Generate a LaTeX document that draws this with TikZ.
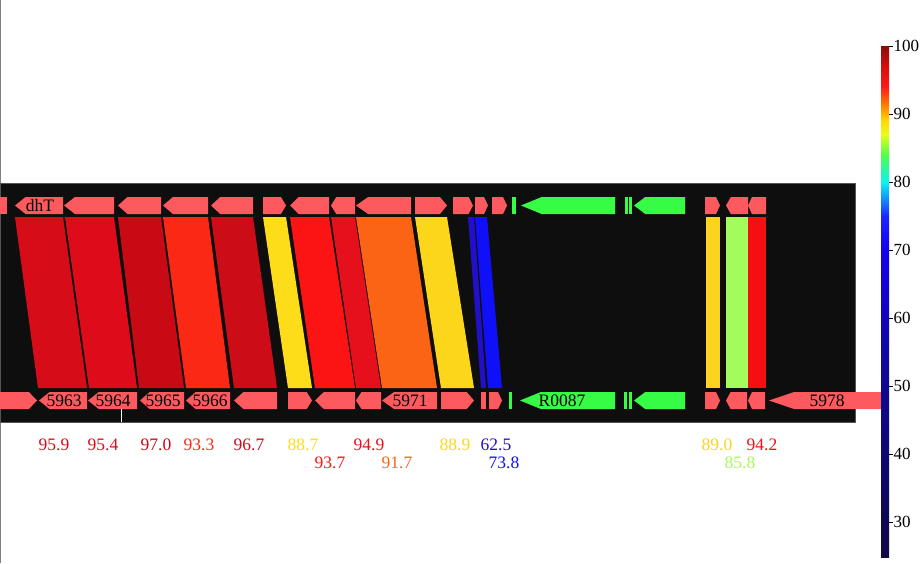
\documentclass[tikz,border=0pt]{standalone}
\usepackage{fontspec}
\setmainfont{Liberation Serif}
\definecolor{bgblack}{HTML}{0E0E0E}
\definecolor{edgegray}{HTML}{555555}
\definecolor{gene}{HTML}{FC5A5E}
\definecolor{ggreen}{HTML}{36FC46}
\definecolor{cA}{HTML}{D60D18}
\definecolor{cB}{HTML}{DE0C1A}
\definecolor{cC}{HTML}{C80A14}
\definecolor{cD}{HTML}{FA2814}
\definecolor{cE}{HTML}{CC0C16}
\definecolor{cF}{HTML}{FDDC1A}
\definecolor{cG}{HTML}{FC1414}
\definecolor{cH}{HTML}{E60F1C}
\definecolor{cI}{HTML}{FB6414}
\definecolor{cJ}{HTML}{FCD61A}
\definecolor{cK}{HTML}{2210C8}
\definecolor{cL}{HTML}{1010F8}
\definecolor{cM}{HTML}{FCD420}
\definecolor{cN}{HTML}{A4FC5C}
\definecolor{cO}{HTML}{F50F12}
\pgfdeclareverticalshading{cbar}{100bp}{%
rgb(0bp)=(0.06,0.03,0.28);
rgb(25bp)=(0.06,0.03,0.28);
rgb(35bp)=(0.05,0.03,0.45);
rgb(45bp)=(0.06,0.03,0.64);
rgb(55bp)=(0.09,0.0,0.93);
rgb(58.3bp)=(0.1,0.15,1.0);
rgb(61.7bp)=(0.05,0.95,0.95);
rgb(64.3bp)=(0.3,1.0,0.3);
rgb(66.3bp)=(0.9,1.0,0.1);
rgb(67.7bp)=(1.0,0.85,0.0);
rgb(69bp)=(1.0,0.55,0.0);
rgb(71bp)=(1.0,0.1,0.1);
rgb(73bp)=(0.85,0.05,0.05);
rgb(75bp)=(0.55,0.04,0.04);
rgb(100bp)=(0.55,0.04,0.04)}
\newcommand\gL[4]{%
  \pgfmathsetmacro\hl{max(4,0.22*(#2-#1))}%
  \fill[#4] (#1,{#3+8.5}) -- ({#1+\hl},#3) -- (#2,#3) -- (#2,{#3+17}) -- ({#1+\hl},{#3+17}) -- cycle;}
\newcommand\gR[4]{%
  \pgfmathsetmacro\hl{max(4,0.22*(#2-#1))}%
  \fill[#4] (#1,#3) -- ({#2-\hl},#3) -- (#2,{#3+8.5}) -- ({#2-\hl},{#3+17}) -- (#1,{#3+17}) -- cycle;}
\newcommand\gB[4]{\fill[#4] (#1,#3) rectangle (#2,{#3+17});}
\newcommand\band[5]{\fill[#5] (#1,217) -- (#2,217) -- (#4,388) -- (#3,388) -- cycle;}
\tikzset{
  glab/.style={font=\fontsize{17.5}{17.5}\selectfont, text=black, inner sep=0pt},
  slab/.style={font=\fontsize{17.5}{17.5}\selectfont, inner sep=0pt},
  tlab/.style={font=\fontsize{17}{17}\selectfont, text=black, inner sep=0pt, anchor=west}
}
\begin{document}
\begin{tikzpicture}[x=1pt,y=-1pt]
\useasboundingbox (0,0) rectangle (920,563);
\fill[white] (0,0) rectangle (920,563);
\draw[gray, line width=1.2] (0.6,0) -- (0.6,563);
\fill[bgblack, draw=edgegray, line width=1] (0,183.5) rectangle (855,422);
% bands
\band{15}{63}{38}{87}{cA}
\band{65}{114}{89}{137}{cB}
\band{118}{161}{139}{184}{cC}
\band{163}{208}{186}{230}{cD}
\band{211}{253}{234}{277}{cE}
\band{263}{286}{288}{312}{cF}
\band{290}{329}{315}{355}{cG}
\band{331}{355}{356}{381}{cH}
\band{356}{411}{382}{437}{cI}
\band{415}{447}{441}{474}{cJ}
\band{468}{474}{481}{486}{cK}
\band{475}{487}{488}{502}{cL}
\band{706}{720}{706}{720}{cM}
\band{726}{748}{726}{748}{cN}
\band{748}{766}{748}{766}{cO}
% top row genes
\gB{0}{7}{197}{gene}
\gL{15}{63}{197}{gene}
\gL{64}{114}{197}{gene}
\gL{118}{161}{197}{gene}
\gL{163}{208}{197}{gene}
\gL{211}{253}{197}{gene}
\gR{263}{286}{197}{gene}
\gL{290}{329}{197}{gene}
\gL{331}{355}{197}{gene}
\gL{356}{411}{197}{gene}
\gR{415}{447}{197}{gene}
\gR{453}{473}{197}{gene}
\gR{475}{488}{197}{gene}
\gR{492}{507}{197}{gene}
\gB{512}{516}{197}{ggreen}
\gL{521}{615}{197}{ggreen}
\gB{625}{627.5}{197}{ggreen}
\gB{629}{632}{197}{ggreen}
\gL{634}{685}{197}{ggreen}
\gR{705}{720}{197}{gene}
\gL{726}{748}{197}{gene}
\gL{748}{766}{197}{gene}
% bottom row genes
\gR{0}{37}{392}{gene}
\gL{39}{87}{392}{gene}
\gL{88}{137}{392}{gene}
\gL{140}{184}{392}{gene}
\gL{186}{230}{392}{gene}
\gL{234}{277}{392}{gene}
\gR{288}{312}{392}{gene}
\gL{315}{355}{392}{gene}
\gL{356}{381}{392}{gene}
\gL{382}{437}{392}{gene}
\gR{441}{474}{392}{gene}
\gB{481}{486}{392}{gene}
\gR{489}{502}{392}{gene}
\gB{509}{512}{392}{ggreen}
\gL{520}{615}{392}{ggreen}
\gB{624}{627}{392}{ggreen}
\gB{629}{632}{392}{ggreen}
\gL{634}{685}{392}{ggreen}
\gR{705}{720}{392}{gene}
\gL{726}{747}{392}{gene}
\gL{748}{765}{392}{gene}
\gL{769}{883}{392}{gene}
\draw[white, line width=0.6] (121.3,409) -- (121.3,422);
% gene labels
\node[glab] (gdhT) at (40,205.5) {dhT};
\node[glab] (g5963) at (64,400.5) {5963};
\node[glab] (g5964) at (113,400.5) {5964};
\node[glab] (g5965) at (163,400.5) {5965};
\node[glab] (g5966) at (210,400.5) {5966};
\node[glab] (g5971) at (410,400.5) {5971};
\node[glab] (gR0087) at (562,400.5) {R0087};
\node[glab] (g5978) at (827,400.5) {5978};
% score labels
\node[slab, text=cA] (s1) at (54,445) {95.9};
\node[slab, text=cB] (s2) at (103,445) {95.4};
\node[slab, text=cC] (s3) at (156,445) {97.0};
\node[slab, text=cD] (s4) at (199,445) {93.3};
\node[slab, text=cE] (s5) at (249,445) {96.7};
\node[slab, text=cF] (s6) at (303,445) {88.7};
\node[slab, text=cG] (s7) at (330,463) {93.7};
\node[slab, text=cH] (s8) at (369,445) {94.9};
\node[slab, text=cI] (s9) at (397,463) {91.7};
\node[slab, text=cJ] (s10) at (455,445) {88.9};
\node[slab, text=cK] (s11) at (496,445) {62.5};
\node[slab, text=cL] (s12) at (504,463) {73.8};
\node[slab, text=cM] (s13) at (717,445) {89.0};
\node[slab, text=cN] (s14) at (740,463) {85.8};
\node[slab, text=cO] (s15) at (762,445) {94.2};
% colour bar
\shade[shading=cbar] (881,46) rectangle (889,557);
\foreach \v/\yy in {100/46,90/114,80/182,70/250,60/318,50/386,40/454,30/522}{
  \draw[black, line width=0.8] (889,\yy) -- (893,\yy);
  \node[tlab] (t\v) at (893.5,\yy) {\v};
}
\end{tikzpicture}
\end{document}
